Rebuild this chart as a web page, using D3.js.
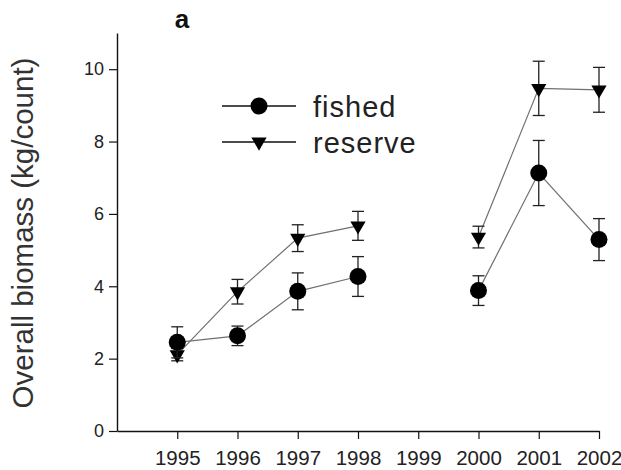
<!DOCTYPE html>
<html>
<head>
<meta charset="utf-8">
<script src="https://cdn.jsdelivr.net/npm/d3@7"></script>
<style>
  html, body { margin: 0; padding: 0; background: #fff; }
  svg { display: block; font-family: Arial, "Liberation Sans", sans-serif; }
</style>
</head>
<body>
<svg id="chart" width="621" height="470"></svg>
<script>
// Survey years (1999 has no survey)
const years = [1995, 1996, 1997, 1998, 2000, 2001, 2002];
const tickYears = [1995, 1996, 1997, 1998, 1999, 2000, 2001, 2002];
const yTicks = [0, 2, 4, 6, 8, 10];

// Mean overall biomass (kg/count) and standard error
const fishedMean = [2.45, 2.63, 3.86, 4.27, 3.88, 7.13, 5.29];
const fishedErr  = [0.43, 0.27, 0.51, 0.55, 0.41, 0.90, 0.58];
const reserveMean = [2.11, 3.85, 5.33, 5.67, 5.36, 9.47, 9.43];
const reserveErr  = [0.17, 0.34, 0.37, 0.40, 0.30, 0.75, 0.62];

const svg = d3.select("#chart");

const x = d3.scaleLinear().domain([1994, 2002]).range([117, 599]);
const y = d3.scaleLinear().domain([0, 11]).range([431, 33]);

// Axes
const xAxis = d3.axisBottom(x).tickValues(tickYears).tickFormat(d3.format("d"))
  .tickSizeOuter(0).tickSizeInner(8).tickPadding(11);
const yAxis = d3.axisLeft(y).tickValues(yTicks).tickSizeOuter(0).tickSizeInner(8).tickPadding(5);

const gx = svg.append("g").attr("transform", "translate(0,431)").call(xAxis);
const gy = svg.append("g").attr("transform", "translate(117,0)").call(yAxis);
[gx, gy].forEach(g => {
  g.select(".domain").attr("stroke", "#111").attr("stroke-width", 1.4);
  g.selectAll(".tick line").attr("stroke", "#111").attr("stroke-width", 1.2);
  g.selectAll(".tick text").attr("fill", "#222");
});
gx.selectAll(".tick text").style("font-size", "20.5px");
gy.selectAll(".tick text").style("font-size", "18px");

// Y-axis title
svg.append("text")
  .attr("transform", "translate(33,233) rotate(-90)")
  .attr("text-anchor", "middle")
  .attr("fill", "#333")
  .style("font-size", "29.5px")
  .text("Overall biomass (kg/count)");

// Panel label
svg.append("text")
  .attr("x", 182).attr("y", 28)
  .attr("text-anchor", "middle")
  .attr("fill", "#111")
  .style("font-size", "26px").style("font-weight", "bold")
  .text("a");

const triangle = d3.symbol().type(d3.symbolTriangle).size(100);

function drawSeries(mean, err, marker) {
  const pts = years.map((yr, i) => ({ yr, v: mean[i], e: err[i] }));
  // two line segments, broken at the missing year
  const segs = [pts.filter(p => p.yr < 1999), pts.filter(p => p.yr > 1999)];
  const line = d3.line().x(p => x(p.yr)).y(p => y(p.v));
  segs.forEach(s => svg.append("path").attr("d", line(s))
    .attr("fill", "none").attr("stroke", "#707070").attr("stroke-width", 1.2));

  // error bars
  const eb = svg.append("g").attr("stroke", "#222").attr("stroke-width", 1.3);
  pts.forEach(p => {
    eb.append("line").attr("x1", x(p.yr)).attr("x2", x(p.yr))
      .attr("y1", y(p.v + p.e)).attr("y2", y(p.v - p.e));
    [p.v + p.e, p.v - p.e].forEach(v => eb.append("line")
      .attr("x1", x(p.yr) - 6).attr("x2", x(p.yr) + 6)
      .attr("y1", y(v)).attr("y2", y(v)));
  });

  // markers
  pts.forEach(p => drawMarker(marker, x(p.yr), y(p.v)));
}

function drawMarker(marker, cx, cy) {
  if (marker === "circle") {
    svg.append("circle").attr("cx", cx).attr("cy", cy).attr("r", 8.5).attr("fill", "#000");
  } else {
    svg.append("path").attr("d", triangle)
      .attr("transform", `translate(${cx},${cy}) rotate(180)`)
      .attr("fill", "#000");
  }
}

drawSeries(reserveMean, reserveErr, "triangle");
drawSeries(fishedMean, fishedErr, "circle");

// Legend
const legend = [
  { name: "fished", marker: "circle", y: 106 },
  { name: "reserve", marker: "triangle", y: 142 }
];
legend.forEach(l => {
  svg.append("line").attr("x1", 222).attr("x2", 296).attr("y1", l.y).attr("y2", l.y)
    .attr("stroke", "#111").attr("stroke-width", 1.3);
  drawMarker(l.marker, 259, l.y);
  svg.append("text").attr("x", 313).attr("y", l.y + 11)
    .attr("fill", "#222").style("font-size", "29px").style("letter-spacing", "1px")
    .text(l.name);
});
</script>
</body>
</html>
